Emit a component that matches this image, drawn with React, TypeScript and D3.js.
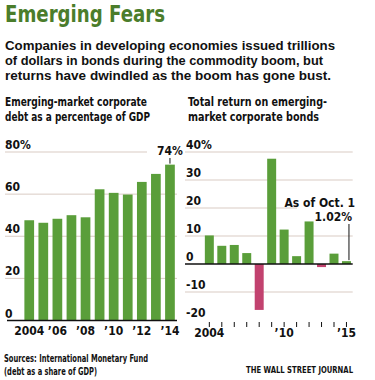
import React from "react";
import * as d3 from "d3";

const debtYears = [2004, 2005, 2006, 2007, 2008, 2009, 2010, 2011, 2012, 2013, 2014];
const debtValues = [47.6, 46.4, 48.3, 50, 49, 62.3, 60.6, 59.8, 65.8, 69.6, 74];
const debtTicks = [0, 20, 40, 60, 80];
const debtTickLabels = ["2004", "\u201906", "\u201908", "\u201910", "\u201912", "\u201914"];

const retYears = [2004, 2005, 2006, 2007, 2008, 2009, 2010, 2011, 2012, 2013, 2014, 2015];
const retValues = [10.2, 6.5, 6.8, 3.9, -16.4, 37.6, 12.3, 2.8, 15.2, -1.1, 3.7, 1.02];
const retTicks = [-20, -10, 0, 10, 20, 30, 40];
const retTickLabelYears = [2004, 2010, 2015];
const retTickLabels = ["2004", "\u201910", "\u201915"];

const GREEN = "#5a9e3a";
const PINK = "#c2426f";
const GRID = "#d9cbc3";
const TITLE_GREEN = "#4b7d2b";
const NARROW = "'Liberation Sans Narrow', 'DejaVu Sans Condensed', 'Liberation Sans', sans-serif";
const SANS = "'Liberation Sans', Arial, Helvetica, sans-serif";

export default function App() {
  // Left chart
  const lx = d3.scaleBand<number>().domain(debtYears).range([22.2, 177]).paddingInner(0.31).paddingOuter(0.155);
  const ly = d3.scaleLinear().domain([0, 80]).range([320.5, 152]);
  // Right chart
  const rx = d3.scaleBand<number>().domain(retYears).range([203.1, 352.7]).paddingInner(0.28).paddingOuter(0.14);
  const ry = d3.scaleLinear().domain([-20, 40]).range([320, 152]);

  const lastDebtYear = debtYears[debtYears.length - 1];
  const lastDebtX = (lx(lastDebtYear) as number) + lx.bandwidth() / 2;
  const lastDebt = debtValues[debtValues.length - 1];
  const lastRetYear = retYears[retYears.length - 1];
  const lastRetX = (rx(lastRetYear) as number) + rx.bandwidth() / 2;
  const lastRet = retValues[retValues.length - 1];

  return (
    <svg width={375} height={380} style={{ position: "absolute", left: 0, top: 0, background: "#fff" }}>
      {/* Headline */}
      <text x={5} y={22} fontFamily={NARROW} fontWeight="bold" fontSize={23} fill={TITLE_GREEN} textLength={160} lengthAdjust="spacingAndGlyphs">Emerging Fears</text>
      <g fontFamily={SANS} fontWeight="bold" fontSize={13} fill="#111">
        <text x={5} y={49.5} textLength={330} lengthAdjust="spacingAndGlyphs">Companies in developing economies issued trillions</text>
        <text x={5} y={64.5} textLength={318} lengthAdjust="spacingAndGlyphs">of dollars in bonds during the commodity boom, but</text>
        <text x={5} y={79.5} textLength={326} lengthAdjust="spacingAndGlyphs">returns have dwindled as the boom has gone bust.</text>
      </g>

      {/* Panel titles */}
      <g fontFamily={NARROW} fontWeight="bold" fontSize={12} fill="#111">
        <text x={5} y={106} textLength={142} lengthAdjust="spacingAndGlyphs">Emerging-market corporate</text>
        <text x={5} y={121} textLength={145} lengthAdjust="spacingAndGlyphs">debt as a percentage of GDP</text>
        <text x={188} y={106} textLength={139} lengthAdjust="spacingAndGlyphs">Total return on emerging-</text>
        <text x={188} y={121} textLength={131} lengthAdjust="spacingAndGlyphs">market corporate bonds</text>
      </g>

      {/* Left chart gridlines */}
      {debtTicks.filter((t) => t !== 0).map((t) => (
        <line key={t} x1={5} x2={t === 80 ? 147 : 177} y1={ly(t)} y2={ly(t)} stroke={GRID} strokeWidth={1} />
      ))}
      {debtTicks.map((t) => (
        <text key={"l" + t} x={5} y={ly(t) - 3} fontFamily={NARROW} fontWeight="bold" fontSize={12} fill="#111">
          {t === 80 ? "80%" : String(t)}
        </text>
      ))}
      {debtYears.map((yr, i) => (
        <rect key={yr} x={lx(yr)} width={lx.bandwidth()} y={ly(debtValues[i])} height={ly(0) - ly(debtValues[i])} fill={GREEN} />
      ))}
      <line x1={7} x2={177} y1={ly(0)} y2={ly(0)} stroke="#111" strokeWidth={1.5} />
      {debtYears.filter((_, i) => i % 2 === 0).map((yr, i) => (
        <text key={"x" + yr} x={(lx(yr) as number) + lx.bandwidth() / 2} y={335} textAnchor="middle" fontFamily={NARROW} fontWeight="bold" fontSize={12} fill="#111">
          {debtTickLabels[i]}
        </text>
      ))}
      <text x={lastDebtX} y={155} textAnchor="middle" fontFamily={NARROW} fontWeight="bold" fontSize={12} fill="#111">{Math.round(lastDebt)}%</text>
      <line x1={lastDebtX} x2={lastDebtX} y1={158} y2={ly(lastDebt) - 1} stroke="#111" strokeWidth={1} />

      {/* Right chart gridlines */}
      {retTicks.filter((t) => t !== 0 && t !== -20).map((t) => (
        <line key={t} x1={185} x2={t === 20 ? 297 : 352.7} y1={ry(t)} y2={ry(t)} stroke={GRID} strokeWidth={1} />
      ))}
      {retTicks.map((t) => (
        <text key={"r" + t} x={186} y={ry(t) - 3} fontFamily={NARROW} fontWeight="bold" fontSize={12} fill="#111">
          {t === 40 ? "40%" : String(t)}
        </text>
      ))}
      {retYears.map((yr, i) => {
        const v = retValues[i];
        return (
          <rect key={yr} x={rx(yr)} width={rx.bandwidth()} y={ry(Math.max(0, v))} height={Math.abs(ry(v) - ry(0))} fill={v >= 0 ? GREEN : PINK} />
        );
      })}
      <line x1={185} x2={352.7} y1={ry(0)} y2={ry(0)} stroke="#111" strokeWidth={1.5} />
      {retYears.map((yr) => (
        <line key={"t" + yr} x1={(rx(yr) as number) + rx.bandwidth() / 2} x2={(rx(yr) as number) + rx.bandwidth() / 2} y1={322} y2={327} stroke="#111" strokeWidth={1} />
      ))}
      {retTickLabelYears.map((yr, i) => (
        <text key={"rx" + yr} x={(rx(yr) as number) + rx.bandwidth() / 2} y={337} textAnchor="middle" fontFamily={NARROW} fontWeight="bold" fontSize={12} fill="#111">
          {retTickLabels[i]}
        </text>
      ))}
      <g fontFamily={NARROW} fontWeight="bold" fontSize={12} fill="#111" textAnchor="end">
        <text x={355} y={207}>As of Oct. 1</text>
        <text x={352} y={220.5}>{lastRet.toFixed(2)}%</text>
      </g>
      <line x1={lastRetX + 2.5} x2={lastRetX + 2.5} y1={224} y2={ry(lastRet) - 1} stroke="#111" strokeWidth={1} />

      {/* Footer */}
      <g fontFamily={NARROW} fontWeight="bold" fontSize={10} fill="#111">
        <text x={4} y={362} textLength={144} lengthAdjust="spacingAndGlyphs">Sources: International Monetary Fund</text>
        <text x={4} y={375} textLength={93} lengthAdjust="spacingAndGlyphs">(debt as a share of GDP)</text>
        <text x={246} y={373} fontSize={9} textLength={107} lengthAdjust="spacingAndGlyphs">THE WALL STREET JOURNAL</text>
      </g>
    </svg>
  );
}
